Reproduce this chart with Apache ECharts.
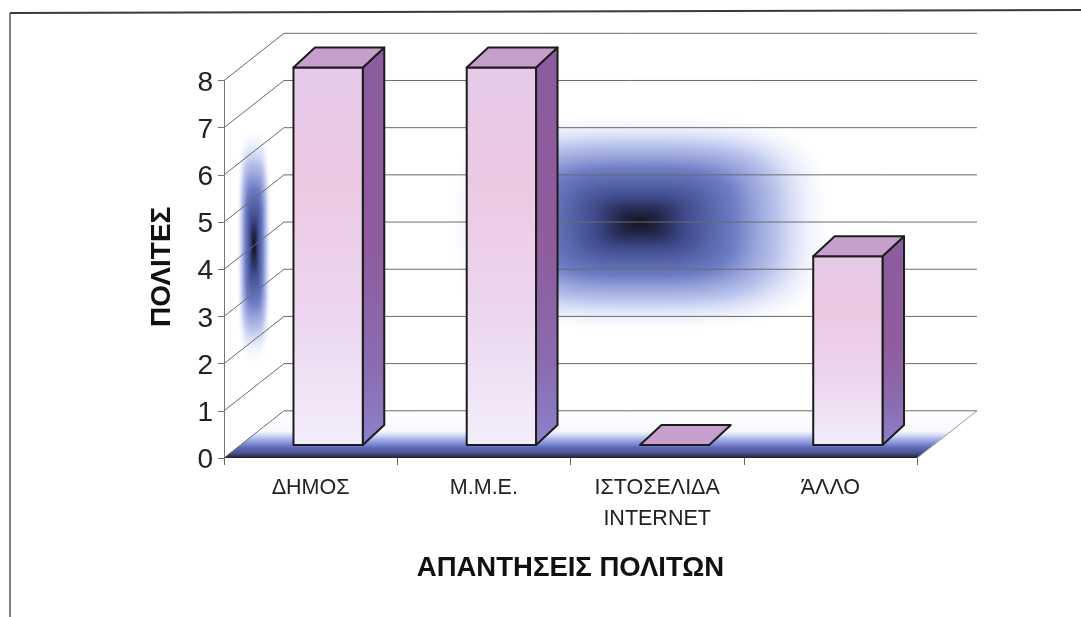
<!DOCTYPE html>
<html>
<head>
<meta charset="utf-8">
<script src="https://cdn.jsdelivr.net/npm/echarts@6/dist/echarts.min.js"></script>
<style>
html, body { margin: 0; padding: 0; background: #fff; }
#main { width: 1081px; height: 617px; }
</style>
</head>
<body>
<div id="main"></div>
<script>
var categories = ['ΔΗΜΟΣ', 'Μ.Μ.Ε.', 'ΙΣΤΟΣΕΛΙΔΑ\nINTERNET', 'ΆΛΛΟ'];
var values = [8, 8, 0, 4];
var yTicks = [0, 1, 2, 3, 4, 5, 6, 7, 8];

var wallX = 60, wallY = 47.2;   // depth of the 3d box
var barX = 21.5, barY = 20;     // depth of one bar
var barShiftX = 17.5, barShiftY = 13; // bars stand a little behind the front edge

// scanned "from center" gradient patches behind the bars
function glow(w, h, power) {
    var c = document.createElement('canvas');
    c.width = w; c.height = h;
    var ctx = c.getContext('2d');
    var img = ctx.createImageData(w, h);
    var stops = [
        [0, 20, 20, 30, 255], [0.1, 34, 38, 72, 255], [0.25, 60, 72, 140, 248],
        [0.5, 96, 112, 192, 232], [0.72, 150, 165, 226, 170], [1, 228, 234, 255, 0]
    ];
    for (var j = 0; j < h; j++) {
        for (var i = 0; i < w; i++) {
            var u = Math.abs((i + 0.5) / w * 2 - 1), v = Math.abs((j + 0.5) / h * 2 - 1);
            var d = Math.min(1, Math.pow(Math.pow(u, power) + Math.pow(v, power), 1 / power));
            var k = 0;
            while (k < stops.length - 2 && d > stops[k + 1][0]) k++;
            var a = stops[k], b = stops[k + 1], t = (d - a[0]) / (b[0] - a[0]);
            for (var n = 0; n < 4; n++) {
                img.data[(j * w + i) * 4 + n] = a[n + 1] + (b[n + 1] - a[n + 1]) * t;
            }
        }
    }
    ctx.putImageData(img, 0, 0);
    return c;
}

function grad(stops) {
    return new echarts.graphic.LinearGradient(0, 0, 0, 1, stops);
}

function renderWalls(params, api) {
    var v = api.value(0);
    var rect = params.coordSys;
    var x0 = rect.x, x1 = rect.x + rect.width;
    var y = api.coord([0, v])[1];
    var lineStyle = { stroke: '#6b6b6b', lineWidth: 1, fill: null };
    var children = [{
        type: 'polyline',
        shape: { points: [[x0, y], [x0 + wallX, y - wallY], [x1 + wallX, y - wallY]] },
        style: lineStyle
    }];
    if (v === 0) {
        children.unshift({
            type: 'polygon',
            shape: { points: [[x0, y], [x1, y], [x1 + wallX, y - wallY], [x0 + wallX, y - wallY]] },
            style: {
                fill: grad([
                    { offset: 0, color: 'rgba(190,200,245,0)' },
                    { offset: 0.42, color: 'rgba(190,200,245,0.1)' },
                    { offset: 0.6, color: 'rgba(150,165,230,0.85)' },
                    { offset: 0.78, color: '#5d69b8' },
                    { offset: 0.9, color: '#47508c' },
                    { offset: 1, color: '#1e1e2a' }
                ])
            }
        });
        children.push({
            type: 'line',
            shape: { x1: x1, y1: y, x2: x1 + wallX, y2: y - wallY },
            style: { stroke: '#9a9a9a', lineWidth: 1 }
        });
    }
    return { type: 'group', children: children };
}

function renderBar(params, api) {
    var idx = api.value(0);
    var base = api.coord([idx, 0]);
    var top = api.coord([idx, api.value(1)]);
    var w = api.size([1, 0])[0] * 0.4;
    var l = base[0] - w / 2 + barShiftX, r = l + w;
    var b = base[1] - barShiftY, t = top[1] - barShiftY;
    var edge = { stroke: '#1c1c1c', lineWidth: 2, lineJoin: 'round' };
    var children = [];
    if (b - t > 0.5) {
        children.push({
            type: 'polygon',
            shape: { points: [[r, t], [r + barX, t - barY], [r + barX, b - barY], [r, b]] },
            style: Object.assign({
                fill: grad([
                    { offset: 0, color: '#8a5c9e' },
                    { offset: 0.5, color: '#8f5c9c' },
                    { offset: 0.8, color: '#8a6cb0' },
                    { offset: 1, color: '#8c82cc' }
                ])
            }, edge)
        });
        children.push({
            type: 'rect',
            shape: { x: l, y: t, width: w, height: b - t },
            style: Object.assign({
                fill: grad([
                    { offset: 0, color: '#e5cbe9' },
                    { offset: 0.3, color: '#ecc9e3' },
                    { offset: 0.65, color: '#ecd6ef' },
                    { offset: 1, color: '#f3eefb' }
                ])
            }, edge)
        });
    }
    children.push({
        type: 'polygon',
        shape: { points: [[l, t], [l + barX, t - barY], [r + barX, t - barY], [r, t]] },
        style: Object.assign({ fill: '#c79fcc' }, edge)
    });
    return { type: 'group', children: children };
}

var chart = echarts.init(document.getElementById('main'));
chart.setOption({
    backgroundColor: '#ffffff',
    animation: false,
    textStyle: { fontFamily: '"Liberation Sans", Arial, sans-serif' },
    grid: { left: 224, right: 164, top: 80.5, bottom: 159 },
    graphic: [
        { type: 'image', z: 0, left: 450, top: 115, style: { image: glow(380, 215, 3.5), width: 380, height: 215 } },
        { type: 'image', z: 0, left: 237, top: 130, style: { image: glow(34, 232, 3.5), width: 34, height: 232 } },
        { type: 'line', z: 1, shape: { x1: 10, y1: 13, x2: 1081, y2: 10 }, style: { stroke: '#3a3a3a', lineWidth: 2 } },
        { type: 'line', z: 1, shape: { x1: 10, y1: 13, x2: 10, y2: 617 }, style: { stroke: '#555', lineWidth: 1.5 } }
    ],
    xAxis: {
        type: 'category',
        data: categories,
        name: 'ΑΠΑΝΤΗΣΕΙΣ ΠΟΛΙΤΩΝ',
        nameLocation: 'middle',
        nameGap: 96,
        nameTextStyle: { color: '#111', fontSize: 27.5, fontWeight: 'bold' },
        axisLine: { show: false },
        axisTick: { show: true, alignWithLabel: false, length: 7, lineStyle: { color: '#666' } },
        axisLabel: { color: '#222', fontSize: 21.5, margin: 15, lineHeight: 31 }
    },
    yAxis: {
        type: 'value',
        min: 0,
        max: 8,
        interval: 1,
        name: 'ΠΟΛΙΤΕΣ',
        nameLocation: 'middle',
        nameRotate: 90,
        nameGap: 48,
        nameTextStyle: { color: '#111', fontSize: 28, fontWeight: 'bold', padding: [0, 0, 0, 5] },
        axisLine: { show: true, onZero: false, lineStyle: { color: '#777' } },
        axisTick: { show: true, length: 6, lineStyle: { color: '#777' } },
        axisLabel: { color: '#222', fontSize: 28, margin: 11, verticalAlign: 'top', lineHeight: 5 },
        splitLine: { show: false }
    },
    series: [
        {
            type: 'custom',
            z: 2,
            silent: true,
            renderItem: renderWalls,
            encode: { y: 0 },
            data: yTicks.map(function (v) { return [v]; })
        },
        {
            type: 'custom',
            z: 3,
            silent: true,
            renderItem: renderBar,
            encode: { x: 0, y: 1 },
            data: values.map(function (v, i) { return [i, v]; })
        }
    ]
});
</script>
</body>
</html>
